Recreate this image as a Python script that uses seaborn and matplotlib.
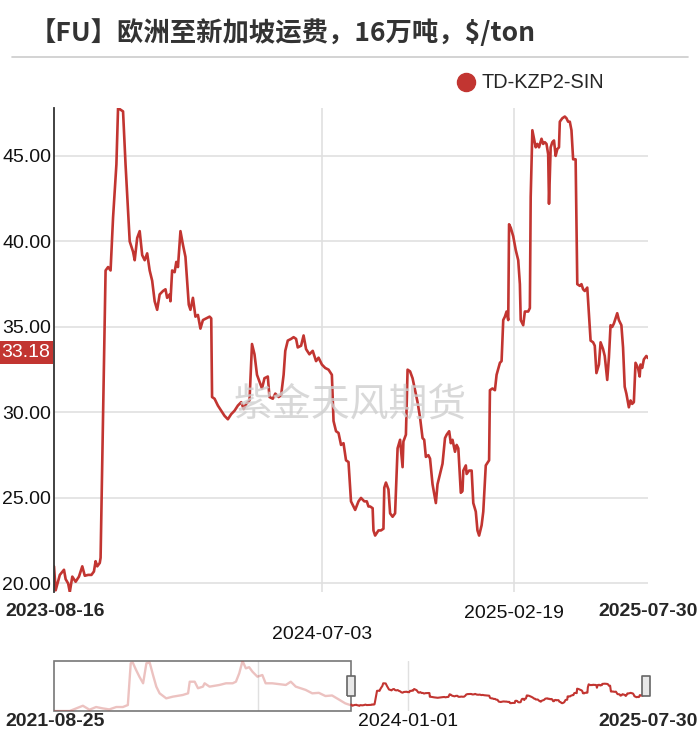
import matplotlib
matplotlib.use("Agg")
import matplotlib.pyplot as plt
import matplotlib.transforms as mtransforms
from matplotlib.lines import Line2D
import seaborn as sns
import pandas as pd

# TD-KZP2-SIN, visible window ($/ton)
dates = [
    "2023-08-16", "2023-08-18", "2023-08-23", "2023-08-28", "2023-08-30", "2023-09-02", "2023-09-04",
    "2023-09-07", "2023-09-11", "2023-09-15", "2023-09-19", "2023-09-22", "2023-09-26", "2023-09-30",
    "2023-10-03", "2023-10-05", "2023-10-07", "2023-10-10", "2023-10-11", "2023-10-14", "2023-10-17",
    "2023-10-20", "2023-10-23", "2023-10-26", "2023-10-30", "2023-11-01", "2023-11-04", "2023-11-07",
    "2023-11-10", "2023-11-15", "2023-11-19", "2023-11-21", "2023-11-24", "2023-11-27", "2023-11-30",
    "2023-12-03", "2023-12-06", "2023-12-09", "2023-12-12", "2023-12-15", "2023-12-18", "2023-12-21",
    "2023-12-25", "2023-12-28", "2023-12-30", "2024-01-02", "2024-01-03", "2024-01-05", "2024-01-08",
    "2024-01-10", "2024-01-12", "2024-01-15", "2024-01-18", "2024-01-21", "2024-01-25", "2024-01-27",
    "2024-01-30", "2024-02-02", "2024-02-05", "2024-02-08", "2024-02-11", "2024-02-15", "2024-02-19",
    "2024-02-21", "2024-02-22", "2024-02-25", "2024-02-29", "2024-03-04", "2024-03-08", "2024-03-12",
    "2024-03-16", "2024-03-20", "2024-03-24", "2024-03-28", "2024-03-31", "2024-04-03", "2024-04-07",
    "2024-04-10", "2024-04-13", "2024-04-16", "2024-04-19", "2024-04-22", "2024-04-25", "2024-04-29",
    "2024-05-01", "2024-05-05", "2024-05-08", "2024-05-12", "2024-05-15", "2024-05-18", "2024-05-20",
    "2024-05-23", "2024-05-27", "2024-05-30", "2024-06-02", "2024-06-04", "2024-06-08", "2024-06-11",
    "2024-06-14", "2024-06-18", "2024-06-22", "2024-06-26", "2024-06-29", "2024-07-03", "2024-07-07",
    "2024-07-11", "2024-07-15", "2024-07-17", "2024-07-20", "2024-07-23", "2024-07-26", "2024-07-29",
    "2024-08-01", "2024-08-04", "2024-08-07", "2024-08-10", "2024-08-12", "2024-08-16", "2024-08-19",
    "2024-08-23", "2024-08-26", "2024-08-28", "2024-08-30", "2024-09-02", "2024-09-03", "2024-09-05",
    "2024-09-09", "2024-09-12", "2024-09-15", "2024-09-16", "2024-09-18", "2024-09-21", "2024-09-23",
    "2024-09-26", "2024-09-29", "2024-10-02", "2024-10-05", "2024-10-08", "2024-10-09", "2024-10-12",
    "2024-10-14", "2024-10-17", "2024-10-20", "2024-10-23", "2024-10-26", "2024-10-29", "2024-11-01",
    "2024-11-03", "2024-11-05", "2024-11-08", "2024-11-10", "2024-11-13", "2024-11-17", "2024-11-19",
    "2024-11-22", "2024-11-25", "2024-11-28", "2024-11-30", "2024-12-03", "2024-12-05", "2024-12-07",
    "2024-12-10", "2024-12-12", "2024-12-14", "2024-12-17", "2024-12-19", "2024-12-20", "2024-12-23",
    "2024-12-24", "2024-12-27", "2024-12-30", "2025-01-01", "2025-01-04", "2025-01-06", "2025-01-08",
    "2025-01-11", "2025-01-13", "2025-01-16", "2025-01-20", "2025-01-21", "2025-01-24", "2025-01-27",
    "2025-01-29", "2025-02-02", "2025-02-04", "2025-02-06", "2025-02-08", "2025-02-10", "2025-02-12",
    "2025-02-13", "2025-02-15", "2025-02-18", "2025-02-21", "2025-02-24", "2025-02-26", "2025-02-27",
    "2025-03-02", "2025-03-04", "2025-03-08", "2025-03-10", "2025-03-11", "2025-03-13", "2025-03-15",
    "2025-03-17", "2025-03-19", "2025-03-21", "2025-03-24", "2025-03-26", "2025-03-28", "2025-03-30",
    "2025-04-01", "2025-04-02", "2025-04-04", "2025-04-06", "2025-04-08", "2025-04-10", "2025-04-12",
    "2025-04-14", "2025-04-15", "2025-04-18", "2025-04-21", "2025-04-23", "2025-04-25", "2025-04-27",
    "2025-04-29", "2025-05-01", "2025-05-04", "2025-05-06", "2025-05-09", "2025-05-11", "2025-05-13",
    "2025-05-15", "2025-05-18", "2025-05-22", "2025-05-25", "2025-05-27", "2025-05-29", "2025-06-01",
    "2025-06-03", "2025-06-06", "2025-06-08", "2025-06-11", "2025-06-13", "2025-06-15", "2025-06-17",
    "2025-06-19", "2025-06-21", "2025-06-23", "2025-06-25", "2025-06-28", "2025-06-30", "2025-07-02",
    "2025-07-04", "2025-07-07", "2025-07-09", "2025-07-11", "2025-07-13", "2025-07-15", "2025-07-18",
    "2025-07-20", "2025-07-21", "2025-07-23", "2025-07-25", "2025-07-28", "2025-07-30",
]
values = [
    21.0, 19.6, 20.5, 20.8, 20.25, 20.0, 19.5,
    20.4, 20.1, 20.4, 21.0, 20.45, 20.5, 20.5,
    20.7, 21.3, 21.0, 21.2, 21.5, 29.9, 38.3,
    38.5, 38.3, 41.4, 44.5, 47.8, 47.7, 47.6,
    44.5, 40.0, 39.4, 38.9, 40.2, 40.6, 39.2,
    38.9, 39.3, 38.3, 37.7, 36.5, 36.0, 36.9,
    37.1, 37.2, 36.7, 36.9, 36.5, 38.3, 38.2,
    38.8, 38.5, 40.6, 39.8, 39.1, 36.3, 36.0,
    36.7, 35.6, 35.7, 34.9, 35.4, 35.5, 35.6,
    35.5, 30.9, 30.8, 30.4, 30.1, 29.8, 29.6,
    29.9, 30.1, 30.4, 30.6, 30.2, 30.5, 30.7,
    34.0, 33.4, 32.2, 31.8, 31.4, 32.0, 32.1,
    30.9, 30.8, 31.1, 30.9, 31.0, 32.2, 33.6,
    34.2, 34.3, 34.4, 34.3, 33.8, 33.9, 34.5,
    33.7, 33.4, 33.6, 33.0, 33.2, 32.8, 32.6,
    32.5, 32.2, 29.5, 28.9, 28.8, 28.1, 28.2,
    27.2, 27.1, 24.8, 24.5, 24.3, 24.8, 25.0,
    24.8, 24.8, 24.5, 24.5, 24.4, 23.1, 22.8,
    23.1, 23.1, 23.2, 25.6, 25.9, 25.5, 24.1,
    23.9, 24.1, 27.9, 28.4, 26.8, 28.3, 28.7,
    32.5, 32.4, 32.0, 31.3, 30.6, 29.7, 28.5,
    28.4, 27.4, 27.5, 27.3, 25.8, 24.7, 25.8,
    26.4, 27.0, 28.5, 28.7, 28.9, 28.2, 28.4,
    27.7, 28.1, 27.9, 25.3, 25.4, 26.6, 26.9,
    26.4, 26.6, 26.6, 24.7, 24.2, 23.1, 22.8,
    23.4, 24.2, 26.9, 27.2, 31.3, 31.4, 31.3,
    32.2, 32.9, 33.0, 35.4, 35.6, 35.9, 35.4,
    41.0, 40.8, 40.3, 39.5, 38.9, 37.5, 35.4,
    35.1, 35.9, 35.9, 36.1, 42.6, 46.5, 46.0,
    45.5, 45.7, 45.5, 46.0, 45.7, 45.8, 45.7,
    45.1, 42.2, 45.5, 45.8, 45.9, 45.0, 45.4,
    45.5, 47.0, 47.2, 47.3, 47.2, 47.0, 47.0,
    46.5, 44.8, 44.8, 37.5, 37.4, 37.5, 37.2,
    37.1, 37.3, 34.2, 34.1, 33.9, 32.3, 32.8,
    34.1, 33.7, 33.3, 31.9, 33.2, 35.1, 35.0,
    35.2, 35.5, 35.8, 35.4, 35.1, 33.8, 31.5,
    31.1, 30.3, 30.7, 30.5, 30.6, 32.9, 32.6,
    32.1, 32.8, 32.6, 33.1, 33.3, 33.18,
]

# earlier history, only shown in the zoom strip
hist_dates = [
    "2021-08-25", "2021-10-02", "2021-10-18", "2021-11-03", "2021-11-19", "2021-12-05", "2021-12-21",
    "2022-01-06", "2022-01-23", "2022-02-08", "2022-02-20", "2022-02-27", "2022-03-04", "2022-03-12",
    "2022-03-20", "2022-03-29", "2022-04-06", "2022-04-14", "2022-04-22", "2022-04-30", "2022-05-08",
    "2022-05-24", "2022-06-09", "2022-07-03", "2022-07-16", "2022-07-20", "2022-08-01", "2022-08-09",
    "2022-08-21", "2022-08-25", "2022-09-06", "2022-09-30", "2022-10-16", "2022-11-01", "2022-11-09",
    "2022-11-17", "2022-11-25", "2022-12-03", "2022-12-11", "2022-12-19", "2022-12-31", "2023-01-12",
    "2023-01-20", "2023-02-05", "2023-03-10", "2023-03-22", "2023-04-03", "2023-04-27", "2023-05-13",
    "2023-05-29", "2023-06-14", "2023-06-30", "2023-07-16", "2023-08-01", "2023-08-13",
]
hist_values = [
    13.0, 13.0, 16.3, 19.6, 14.6, 18.0, 16.3,
    15.0, 18.0, 18.0, 20.5, 73.0, 73.7, 64.5,
    56.1, 47.8, 73.0, 73.7, 58.2, 43.6, 35.2,
    28.9, 31.0, 33.1, 35.2, 49.8, 49.8, 41.6,
    43.6, 47.8, 43.6, 45.7, 47.8, 47.8, 49.8,
    60.3, 75.8, 66.6, 68.0, 62.4, 56.1, 58.2,
    47.8, 47.8, 45.7, 49.8, 43.6, 39.5, 35.2,
    35.8, 31.8, 32.5, 27.6, 22.6, 20.5,
]

series_name = "TD-KZP2-SIN"
title = "【FU】欧洲至新加坡运费，16万吨，$/ton"
yticks = [20, 25, 30, 35, 40, 45]
grid_dates = ["2024-07-03", "2025-02-19"]
nav_grid_dates = ["2023-01-01", "2024-01-01"]
nav_mid_label = "2024-01-01"

RED = "#c23531"
GRID = "#e0e0e0"

sns.set_style("white")
plt.rcParams["font.family"] = ["Liberation Sans", "Noto Sans CJK SC", "DejaVu Sans"]

df = pd.DataFrame({"date": pd.to_datetime(dates), "value": values})
hist = pd.DataFrame({"date": pd.to_datetime(hist_dates), "value": hist_values})
hist = pd.concat([hist, df.iloc[:1]], ignore_index=True)

fig = plt.figure(figsize=(7, 7.35), dpi=100)
W, H = 700, 735
ax = fig.add_axes([54 / W, 1 - 592 / H, 594 / W, 484 / H])
nav = fig.add_axes([54 / W, 1 - 711 / H, 592 / W, 50 / H])

# main chart
sns.lineplot(data=df, x="date", y="value", ax=ax, color=RED, linewidth=1.9,
             estimator=None, legend=False)
ax.set_xlim(df["date"].min(), df["date"].max())
ax.set_ylim(df["value"].min(), df["value"].max())
ax.set_xlabel("")
ax.set_ylabel("")
ax.set_yticks(yticks)
ax.set_yticklabels([f"{v:.2f}" for v in yticks])
gd = pd.to_datetime(grid_dates)
ax.set_xticks(gd)
ax.set_xticklabels(["\n" + grid_dates[0], grid_dates[1]])
ax.get_xticklabels()[0].set_linespacing(1.35)
ax.grid(True, color=GRID, linewidth=1.2)
ax.tick_params(axis="y", length=0, pad=2, labelsize=14, labelcolor="#111111")
ax.tick_params(axis="x", length=5, width=1.2, color=GRID, pad=4, labelsize=14,
               labelcolor="#111111")
for side in ["top", "right", "bottom"]:
    ax.spines[side].set_visible(False)
ax.spines["left"].set_color("#333333")
ax.spines["left"].set_linewidth(1.3)

fig.text(5 / W, 1 - 612 / H, dates[0], fontsize=14, fontweight="bold", ha="left", va="center")
fig.text(698 / W, 1 - 612 / H, dates[-1], fontsize=14, fontweight="bold", ha="right", va="center")

# last value tag
tag_tr = mtransforms.offset_copy(
    mtransforms.blended_transform_factory(ax.transAxes, ax.transData), fig=fig, x=-3, y=4, units="points")
ax.text(0, values[-1], f"{values[-1]:.2f}", transform=tag_tr, ha="right", va="center",
        color="white", fontsize=14, bbox=dict(boxstyle="square,pad=0.15", fc=RED, ec="none"))

# legend
handle = Line2D([], [], marker="o", color=RED, linestyle="none", markersize=13)
fig.legend(handles=[handle], labels=[series_name], loc="center left",
           bbox_to_anchor=(456 / W, 1 - 83 / H), frameon=False, fontsize=14.3,
           handlelength=1, handletextpad=0.3, borderpad=0, borderaxespad=0)

# title and separator
fig.text(30 / W, 1 - 33 / H, title, fontsize=19, fontweight="bold", color="#333333",
         family=["Noto Sans CJK SC", "DejaVu Sans"], ha="left", va="center")
fig.add_artist(Line2D([12 / W, 688 / W], [1 - 57 / H, 1 - 57 / H], color="#cccccc", linewidth=1.2))

# watermark
fig.text(350 / W, 1 - 405 / H, "紫金天风期货", fontsize=28, color="#cfcfcf",
         family=["Noto Sans CJK SC"], ha="center", va="center", alpha=0.8)

# zoom strip
for d in pd.to_datetime(nav_grid_dates):
    nav.axvline(d, color=GRID, linewidth=1.0, zorder=0)
sns.lineplot(data=hist, x="date", y="value", ax=nav, color=RED, alpha=0.3, linewidth=1.7,
             estimator=None, legend=False)
sns.lineplot(data=df, x="date", y="value", ax=nav, color=RED, linewidth=1.5,
             estimator=None, legend=False)
all_vals = list(hist_values) + list(values)
nav.set_xlim(hist["date"].min(), df["date"].max())
nav.set_ylim(min(all_vals), max(all_vals))
nav.axis("off")
nav.axvspan(hist["date"].min(), df["date"].min(), fill=False, edgecolor="#777777",
            linewidth=1.2, clip_on=False)
handle_marker = [(-0.2, -0.5), (0.2, -0.5), (0.2, 0.5), (-0.2, 0.5), (-0.2, -0.5)]
nav.plot([df["date"].min(), df["date"].max()], [0.5, 0.5], transform=nav.get_xaxis_transform(),
         linestyle="none", marker=handle_marker, markersize=15, markerfacecolor="#e8e8e8",
         markeredgecolor="#666666", markeredgewidth=1.2, clip_on=False)

fig.text(5 / W, 1 - 722 / H, hist_dates[0], fontsize=14, fontweight="bold", ha="left", va="center")
fig.text(698 / W, 1 - 722 / H, dates[-1], fontsize=14, fontweight="bold", ha="right", va="center")
nav.text(pd.Timestamp(nav_mid_label), -0.22, nav_mid_label, transform=nav.get_xaxis_transform(),
         fontsize=14, ha="center", va="center", color="#111111", clip_on=False)

fig.savefig("out.png", dpi=100, facecolor="white")
